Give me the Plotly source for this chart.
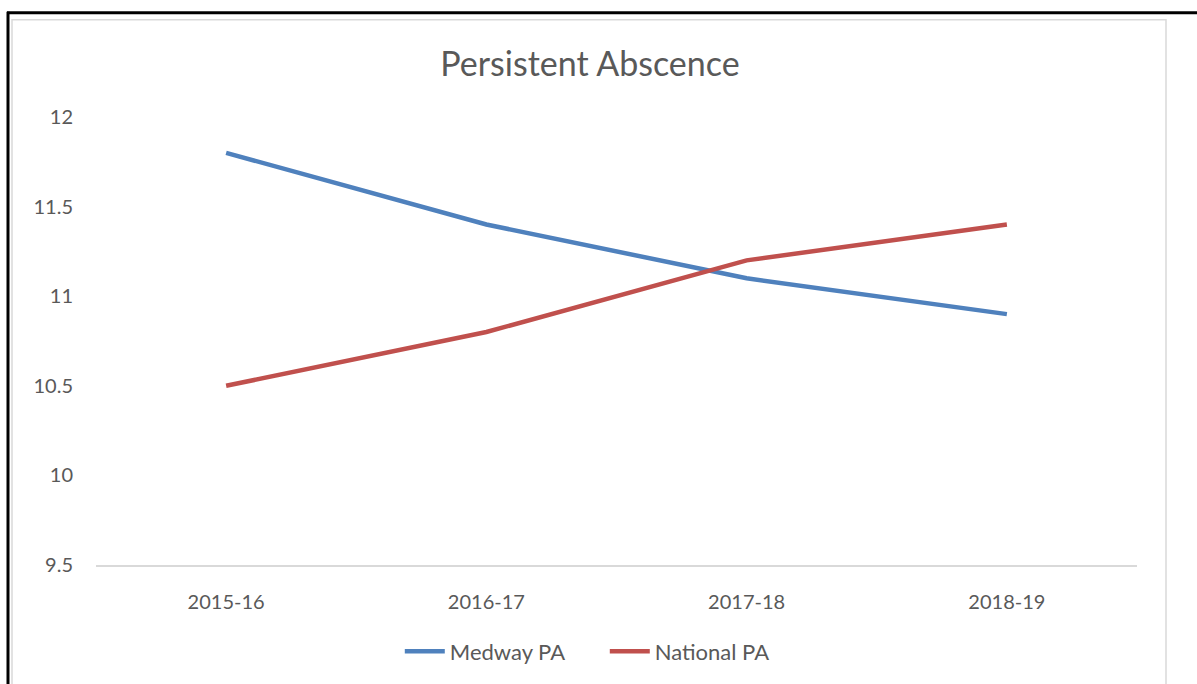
import plotly.graph_objects as go

categories = ["2015-16", "2016-17", "2017-18", "2018-19"]
medway_pa = [11.8, 11.4, 11.1, 10.9]
national_pa = [10.5, 10.8, 11.2, 11.4]
y_ticks = [9.5, 10, 10.5, 11, 11.5, 12]
y_tick_text = ["9.5", "10", "10.5", "11", "11.5", "12"]

W, H = 1197, 684
ML, MR, MT, MB = 96, 60, 117, 116
PW = W - ML - MR
PH = H - MT - MB

def px(x):
    return (x - ML) / PW

def py(y):
    return (H - MB - y) / PH

fig = go.Figure()
fig.add_trace(go.Scatter(x=categories, y=medway_pa, mode="lines", name="Medway PA",
                         line=dict(color="#4F81BD", width=4.5)))
fig.add_trace(go.Scatter(x=categories, y=national_pa, mode="lines", name="National PA",
                         line=dict(color="#C0504D", width=4.5)))

font_family = "Lato, 'Open Sans', sans-serif"
fig.update_layout(
    width=W, height=H,
    margin=dict(l=ML, r=MR, t=MT, b=MB),
    paper_bgcolor="white", plot_bgcolor="white",
    title=dict(text="Persistent Abscence", xref="container", x=590 / W, xanchor="center",
               y=1 - 64 / H, yanchor="middle",
               font=dict(family=font_family, size=34, color="#595959")),
    showlegend=True,
    legend=dict(orientation="h", x=px(405) - 0.005, xanchor="left", y=py(655), yanchor="middle",
                font=dict(family=font_family, size=22, color="#595959"),
                entrywidth=150, entrywidthmode="pixels",
                itemwidth=40, bgcolor="rgba(0,0,0,0)"),
    xaxis=dict(showgrid=False, showline=True, linecolor="#D9D9D9", linewidth=2,
               range=[-0.5, 3.5],
               ticks="", tickfont=dict(family=font_family, size=20, color="#595959"),
               ticklabelstandoff=18, zeroline=False, fixedrange=True),
    yaxis=dict(range=[9.5, 12], tickvals=y_ticks, ticktext=y_tick_text, showgrid=False,
               zeroline=False, showline=False, ticks="",
               tickfont=dict(family=font_family, size=20, color="#595959"),
               ticklabelstandoff=22),
    shapes=[
        dict(type="rect", xref="paper", yref="paper", x0=px(12), x1=px(1166), y0=py(700), y1=py(19),
             line=dict(color="#D9D9D9", width=1.5), fillcolor="rgba(0,0,0,0)", layer="below"),
        dict(type="line", xref="paper", yref="paper", x0=px(7), x1=px(1200), y0=py(12), y1=py(12),
             line=dict(color="black", width=3)),
        dict(type="line", xref="paper", yref="paper", x0=px(8), x1=px(8), y0=py(11), y1=py(700),
             line=dict(color="black", width=3)),
    ],
)

fig.write_html("out.html", config={"displayModeBar": False},
               post_script="document.body.style.margin='0';document.body.style.overflow='hidden';")
